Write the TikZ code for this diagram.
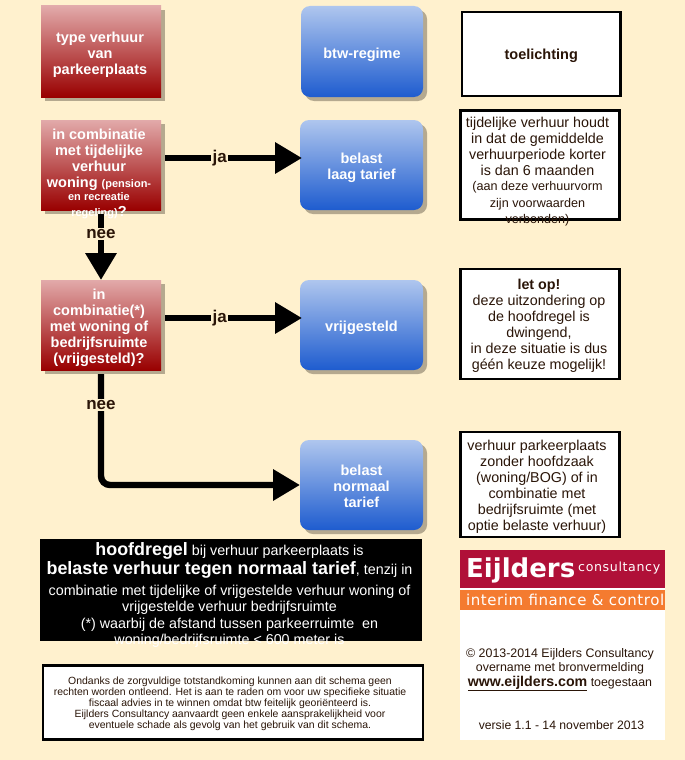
\documentclass[tikz,border=0pt]{standalone}
\usepackage{fontspec}
\setmainfont{Liberation Sans}
\newfontfamily\logofont{DejaVu Sans}
\newfontfamily\logospaced[LetterSpace=5]{DejaVu Sans}
\newfontfamily\logotag[LetterSpace=3.7]{DejaVu Sans}
\usetikzlibrary{arrows.meta,shadows}
\definecolor{bgc}{HTML}{FFF1CE}
\definecolor{shadowc}{HTML}{B5A98F}
\definecolor{redtop}{HTML}{E2AAAA}
\definecolor{redbot}{HTML}{990000}
\definecolor{bluetop}{HTML}{AFC6EE}
\definecolor{bluebot}{HTML}{1E5CCF}
\definecolor{crimson}{HTML}{B01038}
\definecolor{orangec}{HTML}{F47B30}
\definecolor{inkc}{HTML}{2A1508}
\tikzset{
  redbox/.style={anchor=north west,inner sep=0pt,outer sep=0pt,top color=redtop,bottom color=redbot,
    drop shadow={shadow xshift=4pt,shadow yshift=-4pt,fill=shadowc,opacity=1}},
  bluebox/.style={anchor=north west,inner sep=0pt,outer sep=0pt,rounded corners=9pt,top color=bluetop,bottom color=bluebot,
    drop shadow={shadow xshift=4pt,shadow yshift=-4pt,fill=shadowc,opacity=1}},
  whitebox/.style={anchor=north west,inner sep=0pt,outer sep=0pt,draw=black,line width=2.2pt,fill=white},
  boxtext/.style={align=center,text=white,font=\bfseries\fontsize{14.5}{16}\selectfont,inner sep=0pt},
  notetext/.style={align=center,text=inkc,font=\fontsize{14.3}{16}\selectfont,inner sep=0pt},
  flow/.style={line width=6.4pt,draw=black,-{Triangle[length=27pt,width=30pt]}},
  flowlabel/.style={fill=bgc,inner sep=1.5pt,text=inkc,font=\bfseries\fontsize{17}{18}\selectfont}
}
\begin{document}
\begin{tikzpicture}[x=1pt,y=-1pt]
\fill[bgc] (0,0) rectangle (685,760);
\useasboundingbox (0,0) rectangle (685,760);
% red boxes
\node[redbox,minimum width=120pt,minimum height=91pt] (r1) at (41,6) {};
\node[boxtext] (r1t) at ([xshift=-1pt,yshift=-3.5pt]r1.center) {type verhuur\\van\\parkeerplaats};
\node[redbox,minimum width=120pt,minimum height=90pt] (r2) at (41,120) {};
\node[boxtext] (r2t) at ([xshift=-2pt,yshift=-8.5pt]r2.center) {in combinatie\\met tijdelijke\\verhuur\\woning {\fontsize{11}{12}\selectfont (pension-}\\[-3pt]{\fontsize{11}{12}\selectfont en recreatie}\\{\fontsize{11}{12}\selectfont regeling)}?};
\node[redbox,minimum width=120pt,minimum height=90pt] (r3) at (41,280) {};
\node[boxtext] (r3t) at ([xshift=-2pt,yshift=-3pt]r3.center) {in\\combinatie(*)\\met woning of\\bedrijfsruimte\\(vrijgesteld)?};
% blue boxes
\node[bluebox,minimum width=122pt,minimum height=91pt] (b1) at (301,6) {};
\node[boxtext] (b1t) at ([yshift=-3.5pt]b1.center) {btw-regime};
\node[bluebox,minimum width=123pt,minimum height=90pt] (b2) at (300,120) {};
\node[boxtext] (b2t) at ([yshift=-2.5pt]b2.center) {belast\\laag tarief};
\node[bluebox,minimum width=123pt,minimum height=90pt] (b3) at (300,280) {};
\node[boxtext] (b3t) at ([yshift=-2.5pt]b3.center) {vrijgesteld};
\node[bluebox,minimum width=123pt,minimum height=90pt] (b4) at (300,440) {};
\node[boxtext] (b4t) at ([yshift=-1.5pt]b4.center) {belast\\normaal\\tarief};
% notes
\node[whitebox,minimum width=158.5pt,minimum height=84pt] (n1) at (462,12) {};
\node[boxtext,text=inkc] (n1t) at ([yshift=-2pt]n1.center) {toelichting};
\node[whitebox,minimum width=159pt,minimum height=109pt] (n2) at (460.5,110.5) {};
\node[notetext] (n2t) at ([xshift=-2.5pt,yshift=-7pt]n2.center) {tijdelijke verhuur houdt\\in dat de gemiddelde\\verhuurperiode korter\\is dan 6 maanden\\[-1pt]{\fontsize{12.6}{14}\selectfont (aan deze verhuurvorm}\\[.5pt]{\fontsize{12.6}{14}\selectfont zijn voorwaarden}\\[.5pt]{\fontsize{12.6}{14}\selectfont verbonden)}};
\node[whitebox,minimum width=159pt,minimum height=110pt] (n3) at (460.5,269) {};
\node[notetext] (n3t) at ([xshift=-1pt,yshift=-1.5pt]n3.center) {\textbf{let op!}\\deze uitzondering op\\de hoofdregel is\\dwingend,\\in deze situatie is dus\\géén keuze mogelijk!};
\node[whitebox,minimum width=159pt,minimum height=105pt] (n4) at (460.5,432) {};
\node[notetext] (n4t) at ([xshift=-3pt,yshift=-2pt]n4.center) {verhuur parkeerplaats\\zonder hoofdzaak\\(woning/BOG) of in\\combinatie met\\bedrijfsruimte (met\\optie belaste verhuur)};
% rule box
\node[anchor=north west,inner sep=0pt,outer sep=0pt,fill=black,minimum width=382pt,minimum height=102pt] (rule) at (40,539) {};
\node[align=center,text=white,inner sep=0pt,font=\fontsize{14.3}{16.5}\selectfont] (rulet) at ([xshift=-1.5pt,yshift=-5pt]rule.center) {{\bfseries\fontsize{17.9}{18}\selectfont hoofdregel} bij verhuur parkeerplaats is\\[2pt]{\bfseries\fontsize{17.9}{18}\selectfont belaste verhuur tegen normaal tarief}, tenzij in\\[4pt]combinatie met tijdelijke of vrijgestelde verhuur woning of\\vrijgestelde verhuur bedrijfsruimte\\(*) waarbij de afstand tussen parkeerruimte\ \ en\\woning/bedrijfsruimte < 600 meter is};
% disclaimer
\node[whitebox,minimum width=380pt,minimum height=74pt] (d) at (43,665.5) {};
\node[align=center,inner sep=0pt,text=inkc,font=\fontsize{10.45}{11}\selectfont] (dt) at ([xshift=-3pt,yshift=-1pt]d.center) {Ondanks de zorgvuldige totstandkoming kunnen aan dit schema geen\\rechten worden ontleend. Het is aan te raden om voor uw specifieke situatie\\fiscaal advies in te winnen omdat btw feitelijk georiënteerd is.\\Eijlders Consultancy aanvaardt geen enkele aansprakelijkheid voor\\eventuele schade als gevolg van het gebruik van dit schema.};
% logo
\node[anchor=north west,inner sep=0pt,outer sep=0pt,fill=white,minimum width=205pt,minimum height=190pt] (logo) at (460,550) {};
\node[anchor=north west,inner sep=0pt,outer sep=0pt,fill=crimson,minimum width=205pt,minimum height=38pt] (lc) at (460,550) {};
\node[anchor=north west,inner sep=0pt,outer sep=0pt,fill=orangec,minimum width=205pt,minimum height=20pt] (lo) at (460,590) {};
\node[anchor=base west,inner sep=0pt,text=white,font=\logofont\bfseries\fontsize{26}{28}\selectfont] (l1) at (466,577) {Eijlders};
\node[anchor=base west,inner sep=0pt,text=white,font=\logospaced\fontsize{12.6}{14}\selectfont] (l2) at (578,571) {consultancy};
\node[anchor=base west,inner sep=0pt,text=white,font=\logotag\fontsize{15}{16}\selectfont] (l3) at (466,605) {interim finance \& control};
\node[inner sep=0pt,align=center,text=inkc,font=\fontsize{12.4}{14.5}\selectfont] (l4) at (560,669.5) {© 2013-2014 Eijlders Consultancy\\overname met bronvermelding\\{\bfseries\fontsize{14.2}{15}\selectfont\underline{www.eijlders.com}} toegestaan};
\node[inner sep=0pt,text=inkc,font=\fontsize{12.2}{15}\selectfont] (l5) at (561.5,725) {versie 1.1 - 14 november 2013};
% connectors
\draw[flow] ([xshift=4pt,yshift=7pt]r2.east) -- node[flowlabel,pos=.4] (ja1) {ja} ([xshift=2pt,yshift=7pt]b2.west);
\draw[flow] ([xshift=4pt,yshift=7pt]r3.east) -- node[flowlabel,pos=.4] (ja2) {ja} ([xshift=2pt,yshift=7pt]b3.west);
\draw[flow] ([yshift=-4pt]r2.south) -- node[flowlabel,pos=.3] (nee1) {nee} (r3.north);
\draw[flow,rounded corners=9pt] ([yshift=-4pt]r3.south) |- (b4.west);
\node[flowlabel] (nee2) at (101,405) {nee};
\end{tikzpicture}
\end{document}
